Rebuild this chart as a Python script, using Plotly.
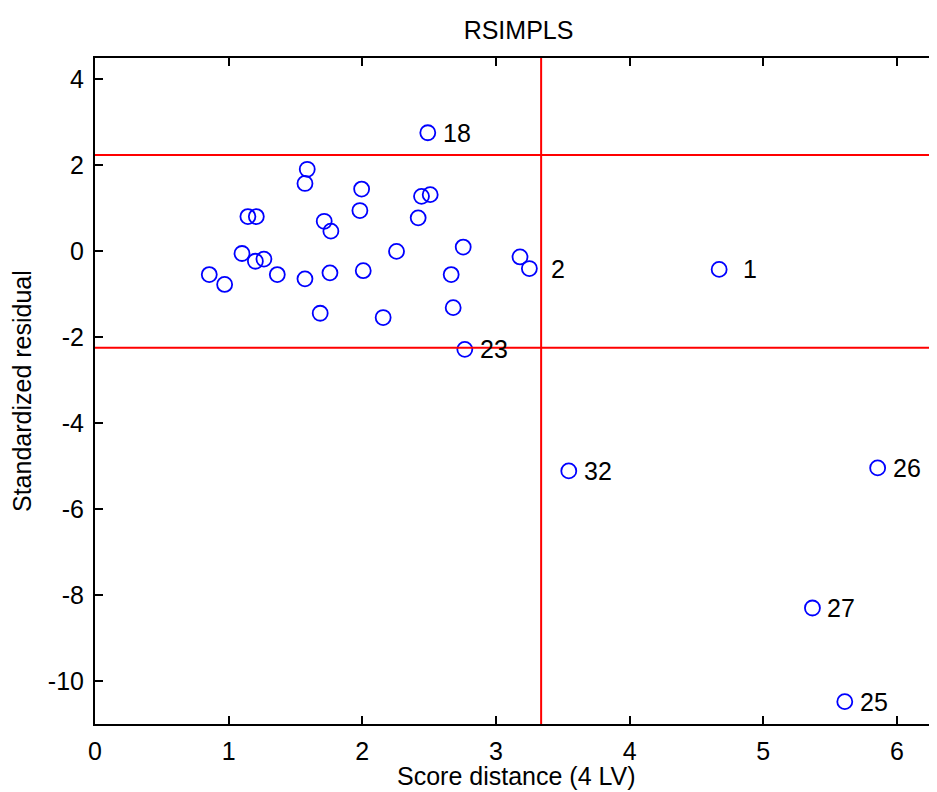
import plotly.graph_objects as go

# Score distance (x) and standardized residual (y) for each observation
score_distance = [0.855, 0.970, 1.100, 1.144, 1.207, 1.200, 1.264, 1.364, 1.571, 1.588,
                  1.571, 1.685, 1.715, 1.765, 1.758, 1.982, 1.995, 2.007, 2.156, 2.256,
                  2.418, 2.443, 2.508, 2.490, 2.665, 2.680, 2.755, 2.767, 3.180, 3.250,
                  4.670, 3.545, 5.856, 5.368, 5.610]
std_residual = [-0.54, -0.77, -0.05, 0.81, 0.81, -0.23, -0.18, -0.54, 1.58, 1.91,
                -0.64, -1.44, 0.70, 0.47, -0.50, 0.95, 1.45, -0.45, -1.54, 0.00,
                0.78, 1.28, 1.32, 2.76, -0.54, -1.31, 0.10, -2.28, -0.13, -0.40,
                -0.42, -5.11, -5.04, -8.30, -10.48]
point_labels = ["", "", "", "", "", "", "", "", "", "",
                "", "", "", "", "", "", "", "", "", "",
                "", "", "", "18", "", "", "", "23", "", "2",
                "1", "32", "26", "27", "25"]

# Cutoff values
sd_cutoff = 3.338
resid_cutoff = 2.2414

x_ticks = [0, 1, 2, 3, 4, 5, 6]
y_ticks = [-10, -8, -6, -4, -2, 0, 2, 4]
x_range = [0, 6.30]
y_range = [-11, 4.5]

TITLE = "RSIMPLS"
X_TITLE = "Score distance (4 LV)"
Y_TITLE = "Standardized residual"

FONT = "Liberation Sans, Arial, sans-serif"
FS = 25

# the page body has an 8px margin; size the figure so it fills the window
W, H = 937 - 8, 792 - 8
ML, MT, PH = 95 - 8, 58 - 8, 666
MB = H - MT - PH

fig = go.Figure()
fig.add_trace(go.Scatter(
    x=score_distance, y=std_residual, mode="markers",
    marker=dict(symbol="circle-open", size=15, color="#0000ff",
                line=dict(width=1.8, color="#0000ff")),
    hoverinfo="x+y", showlegend=False,
))

# cutoff lines
fig.add_shape(type="line", xref="x", yref="y", x0=sd_cutoff, x1=sd_cutoff,
              y0=y_range[0], y1=y_range[1], line=dict(color="#ff0000", width=2))
for v in (resid_cutoff, -resid_cutoff):
    fig.add_shape(type="line", xref="x", yref="y", x0=x_range[0], x1=x_range[1],
                  y0=v, y1=v, line=dict(color="#ff0000", width=2))

txtfont = dict(family=FONT, size=FS, color="black")

extra_shift = {"1": 9, "2": 7}
for xv, yv, lab in zip(score_distance, std_residual, point_labels):
    if lab:
        fig.add_annotation(x=xv, y=yv, xref="x", yref="y", text=lab,
                           showarrow=False, xanchor="left", yanchor="middle",
                           xshift=14 + extra_shift.get(lab, 0), borderpad=0,
                           font=txtfont)

# axis titles
fig.add_annotation(x=0.5, y=0, xref="paper", yref="paper", text=X_TITLE,
                   showarrow=False, xanchor="center", yanchor="middle",
                   yshift=-52, font=txtfont)
fig.add_annotation(x=0, y=0.5, xref="paper", yref="paper", text=Y_TITLE,
                   showarrow=False, xanchor="center", yanchor="middle",
                   textangle=-90, xshift=-73, font=txtfont)

axis_common = dict(showgrid=False, zeroline=False, showline=True, linecolor="black",
                   linewidth=2, ticks="inside", ticklen=8, tickwidth=2,
                   tickcolor="black", mirror="ticks", automargin=False,
                   tickfont=txtfont)

fig.update_layout(
    width=W, height=H,
    margin=dict(l=ML, r=0, t=MT, b=MB),
    paper_bgcolor="white", plot_bgcolor="white",
    title=dict(text=TITLE, x=0.503, xref="paper", xanchor="center",
               y=1 - 22 / H, yref="container", yanchor="middle", automargin=False,
               font=txtfont),
    xaxis=dict(range=x_range, tickvals=x_ticks, ticktext=[str(t) for t in x_ticks],
               ticklabelstandoff=4, **axis_common),
    yaxis=dict(range=y_range, tickvals=y_ticks, ticktext=[str(t) for t in y_ticks],
               ticklabelstandoff=4, **axis_common),
)

fig.write_html("out.html")
